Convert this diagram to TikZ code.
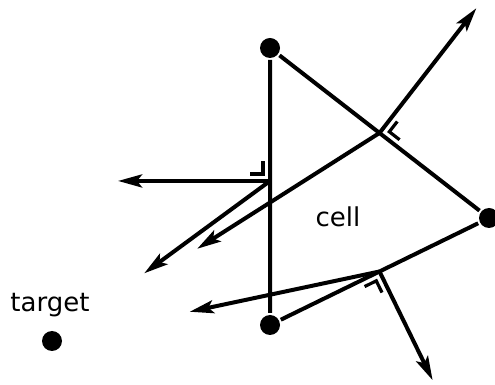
\documentclass[tikz,border=0pt]{standalone}
\usepackage{fontspec}
\setmainfont{DejaVu Sans}
\usetikzlibrary{calc,arrows.meta}

% right-angle mark at #1, edge towards #2, normal turned 90 from it
\newcommand{\rmark}[2]{%
  \draw[rmk] ($(#1)!7pt!(#2) + (#1)!20pt!90:(#2) - (#1)$)
    -- ($(#1)!7pt!(#2) + (#1)!7pt!90:(#2) - (#1)$)
    -- ($(#1)!20pt!(#2) + (#1)!7pt!90:(#2) - (#1)$);}

\begin{document}
\begin{tikzpicture}[x=1pt, y=1pt, line width=4pt,
  dot/.style={circle, fill=black, inner sep=0pt, minimum size=20pt},
  vec/.style={-{Stealth[length=24pt,width=13pt,inset=5pt]}},
  rmk/.style={line width=3.2pt},
  lbl/.style={font=\fontsize{26}{30}\selectfont, anchor=base}]
  \useasboundingbox (0,0) rectangle (495,385);
  % cell corners and target
  \node[dot] (A) at (270,337) {};
  \node[dot] (B) at (489,167) {};
  \node[dot] (C) at (270,60) {};
  \node[dot] (T) at (52,44) {};
  \node[lbl] (celltext) at (338,158) {cell};
  \node[lbl] (targettext) at (50,73) {target};
  \draw (A) -- (B) -- (C) -- (A);
  % edge midpoints
  \coordinate (mAB) at ($(A)!0.5!(B)$);
  \coordinate (mAC) at ($(A)!0.48!(C)$);
  \coordinate (mBC) at ($(B)!0.5!(C)$);
  % outward normals
  \draw[vec] (mAB) -- ($(mAB)!158pt!90:(B)$);
  \draw[vec] (mAC) -- ($(mAC)!152pt!90:(A)$);
  \draw[vec] (mBC) -- ($(mBC)!121pt!90:(C)$);
  % towards the target
  \draw[vec] (mAB) -- ($(mAB)!216pt!(T)$);
  \draw[vec] (mAC) -- ($(mAC)!156pt!(T)$);
  \draw[vec] (mBC) -- ($(mBC)!194pt!(T)$);
  \rmark{mAB}{B}
  \rmark{mAC}{A}
  \rmark{mBC}{C}
\end{tikzpicture}
\end{document}
